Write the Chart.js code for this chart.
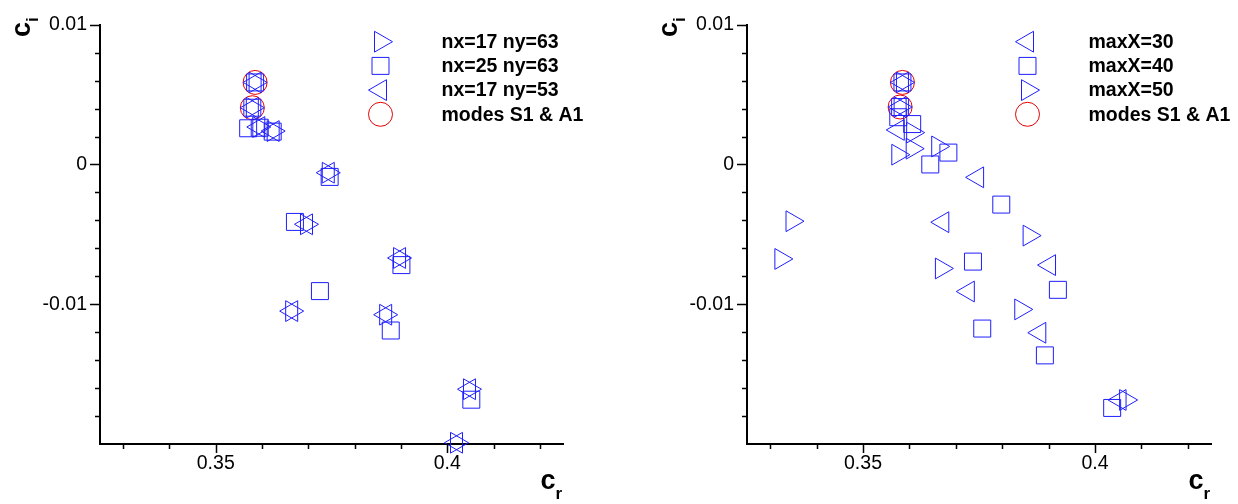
<!DOCTYPE html>
<html>
<head>
<meta charset="utf-8">
<script src="https://cdn.jsdelivr.net/npm/chart.js@4.4.0/dist/chart.umd.min.js"></script>
<style>
  html, body { margin: 0; padding: 0; background: #fff; }
  #wrap { position: relative; width: 1238px; height: 504px; }
  canvas { position: absolute; top: 0; }
</style>
</head>
<body>
<div id="wrap">
  <canvas id="leftChart" width="619" height="504" style="left:0"></canvas>
  <canvas id="rightChart" width="619" height="504" style="left:619px"></canvas>
</div>
<script>
// axes, same for both panels
const xRange = [0.325, 0.425];
const yRange = [-0.02, 0.01];
const xTickValues = [0.35, 0.4];
const xTickLabels = ['0.35', '0.4'];
const yTickValues = [-0.01, 0, 0.01];
const yTickLabels = ['-0.01', '0', '0.01'];
const xMinorTicks = [0.33, 0.34, 0.36, 0.37, 0.38, 0.39, 0.41, 0.42];
const yMinorTicks = [-0.018, -0.016, -0.014, -0.012, -0.008, -0.006, -0.004, -0.002,
                     0.002, 0.004, 0.006, 0.008];

// left panel : grid resolution
const nx17ny63_cr = [0.3585, 0.3579, 0.3593, 0.3624, 0.3743, 0.3696, 0.3897, 0.3664, 0.3867, 0.4048, 0.4020];
const nx17ny63_ci = [0.00587, 0.00406, 0.00268, 0.00239, -0.00059, -0.00428, -0.00669, -0.01049, -0.01075, -0.01608, -0.01991];
const nx25ny63_cr = [0.3585, 0.3579, 0.3570, 0.3595, 0.3623, 0.3746, 0.3671, 0.3901, 0.3725, 0.3878, 0.4052];
const nx25ny63_ci = [0.00587, 0.00406, 0.00259, 0.00263, 0.00235, -0.00089, -0.00411, -0.00720, -0.00906, -0.01188, -0.01683];
const nx17ny53_cr = [0.3585, 0.3579, 0.3593, 0.3624, 0.3743, 0.3696, 0.3897, 0.3664, 0.3867, 0.4048, 0.4020];
const nx17ny53_ci = [0.00587, 0.00406, 0.00268, 0.00239, -0.00059, -0.00428, -0.00669, -0.01049, -0.01075, -0.01608, -0.01991];

// right panel : domain length
const maxX30_cr = [0.3585, 0.3580, 0.3576, 0.3747, 0.3672, 0.3902, 0.3727, 0.3881, 0.4054];
const maxX30_ci = [0.00587, 0.00411, 0.00247, -0.00092, -0.00413, -0.00720, -0.00909, -0.01204, -0.01685];
const maxX40_cr = [0.3585, 0.3580, 0.3576, 0.3606, 0.3684, 0.3645, 0.3798, 0.3737, 0.3920, 0.3757, 0.3892, 0.4037];
const maxX40_ci = [0.00587, 0.00411, 0.00338, 0.00289, 0.00085, 0.0, -0.00287, -0.00695, -0.00897, -0.01174, -0.01366, -0.01742];
const maxX50_cr = [0.3585, 0.3580, 0.3607, 0.3575, 0.3606, 0.3661, 0.3347, 0.3323, 0.3858, 0.3669, 0.3840, 0.4066];
const maxX50_ci = [0.00587, 0.00411, 0.00228, 0.00070, 0.00113, 0.00129, -0.00406, -0.00676, -0.00509, -0.00744, -0.01037, -0.01685];

// modes S1 & A1
const modesL_cr = [0.3585, 0.3579];
const modesL_ci = [0.00587, 0.00406];
const modesR_cr = [0.3585, 0.3580];
const modesR_ci = [0.00587, 0.00411];

const BLUE = 'rgb(30,30,255)';
const RED = 'rgb(230,0,0)';
const FONT = '"Liberation Sans", Arial, Helvetica, sans-serif';

function pts(cr, ci) {
  return cr.map((v, i) => ({ x: v, y: ci[i] }));
}

function series(label, cr, ci, style, rot, color) {
  return {
    label: label,
    data: pts(cr, ci),
    pointStyle: style,
    pointRotation: rot,
    pointRadius: 12,
    pointHoverRadius: 12,
    borderColor: color,
    backgroundColor: 'rgba(0,0,0,0)',
    borderWidth: 1,
    pointBorderWidth: 1,
    showLine: false,
    clip: false
  };
}

// ticks, axis titles and legend drawn on top of the chart
const panelDecor = {
  id: 'panelDecor',
  afterDraw(chart) {
    const ctx = chart.ctx, a = chart.chartArea;
    const xs = chart.scales.x, ys = chart.scales.y;
    ctx.save();
    ctx.strokeStyle = '#000';
    ctx.lineWidth = 1.5;
    ctx.beginPath();
    const tx = (v, len) => { const p = Math.round(xs.getPixelForValue(v)) + 0.5; ctx.moveTo(p, a.bottom); ctx.lineTo(p, a.bottom + len); };
    const ty = (v, len) => { const p = Math.round(ys.getPixelForValue(v)) + 0.5; ctx.moveTo(a.left, p); ctx.lineTo(a.left - len, p); };
    xTickValues.forEach(v => tx(v, 9));
    xMinorTicks.forEach(v => tx(v, 5));
    yTickValues.forEach(v => ty(v, 10));
    yMinorTicks.forEach(v => ty(v, 5));
    ctx.stroke();

    // c_r
    ctx.fillStyle = '#000';
    ctx.textAlign = 'left';
    ctx.textBaseline = 'alphabetic';
    ctx.font = 'bold 27px ' + FONT;
    ctx.fillText('c', a.right - 22.5, 489);
    const cw = ctx.measureText('c').width;
    ctx.font = 'bold 17px ' + FONT;
    ctx.fillText('r', a.right - 22.5 + cw, 499);

    // c_i, rotated
    ctx.save();
    ctx.translate(a.left - 70, 37);
    ctx.rotate(-Math.PI / 2);
    ctx.font = 'bold 27px ' + FONT;
    ctx.fillText('c', 0, 0);
    ctx.font = 'bold 17px ' + FONT;
    ctx.fillText('i', cw, 8);
    ctx.restore();

    // legend
    chart.data.datasets.forEach((ds, i) => {
      const y = 41.7 + i * 24.2;
      ctx.strokeStyle = ds.borderColor;
      ctx.fillStyle = 'rgba(0,0,0,0)';
      ctx.lineWidth = 1;
      Chart.helpers.drawPoint(ctx, { pointStyle: ds.pointStyle, rotation: ds.pointRotation, radius: 12, borderWidth: 1 }, a.left + 280.5, y);
      ctx.fillStyle = '#000';
      ctx.font = 'bold 19.5px ' + FONT;
      ctx.textBaseline = 'middle';
      ctx.fillText(ds.label, a.left + 341.5, y + 1);
    });
    ctx.restore();
  }
};

function makeChart(id, datasets, yAxisWidth, padRight) {
  return new Chart(document.getElementById(id), {
    type: 'scatter',
    data: { datasets: datasets },
    options: {
      responsive: false,
      animation: false,
      events: [],
      layout: { padding: { left: 0, top: 18, right: padRight, bottom: 0 } },
      plugins: { legend: { display: false }, tooltip: { enabled: false } },
      scales: {
        x: {
          type: 'linear',
          min: xRange[0],
          max: xRange[1],
          afterBuildTicks: s => { s.ticks = xTickValues.map(v => ({ value: v })); },
          afterFit: s => { s.height = 60; },
          grid: { display: false, drawTicks: false },
          border: { display: true, color: '#000', width: 2 },
          ticks: {
            autoSkip: false,
            maxRotation: 0,
            padding: 8,
            color: '#000',
            font: { family: FONT, size: 19.5 },
            callback: (v, i) => xTickLabels[i]
          }
        },
        y: {
          type: 'linear',
          min: yRange[0],
          max: yRange[1],
          afterBuildTicks: s => { s.ticks = yTickValues.map(v => ({ value: v })); },
          afterFit: s => { s.width = yAxisWidth; },
          grid: { display: false, drawTicks: false },
          border: { display: true, color: '#000', width: 2 },
          ticks: {
            autoSkip: false,
            padding: 13,
            color: '#000',
            font: { family: FONT, size: 19.5 },
            callback: (v, i) => yTickLabels[i]
          }
        }
      }
    },
    plugins: [panelDecor]
  });
}

makeChart('leftChart', [
  series('nx=17 ny=63', nx17ny63_cr, nx17ny63_ci, 'triangle', 90, BLUE),
  series('nx=25 ny=63', nx25ny63_cr, nx25ny63_ci, 'rect', 0, BLUE),
  series('nx=17 ny=53', nx17ny53_cr, nx17ny53_ci, 'triangle', -90, BLUE),
  series('modes S1 & A1', modesL_cr, modesL_ci, 'circle', 0, RED)
], 100, 56);

makeChart('rightChart', [
  series('maxX=30', maxX30_cr, maxX30_ci, 'triangle', -90, BLUE),
  series('maxX=40', maxX40_cr, maxX40_ci, 'rect', 0, BLUE),
  series('maxX=50', maxX50_cr, maxX50_ci, 'triangle', 90, BLUE),
  series('modes S1 & A1', modesR_cr, modesR_ci, 'circle', 0, RED)
], 128, 27);
</script>
</body>
</html>
